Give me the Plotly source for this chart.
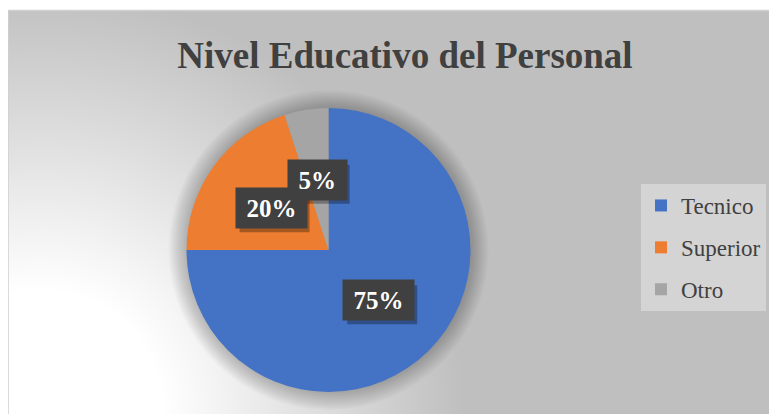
import base64
import math
import plotly.graph_objects as go

labels = ["Tecnico", "Superior", "Otro"]
values = [75, 20, 5]
colors = ["#4472C4", "#ED7D31", "#A5A5A5"]
title = "Nivel Educativo del Personal"

W, H = 777, 414
OFF = 8  # page body margin, the plot div starts at (8, 8)
SERIF = "Liberation Serif, Times New Roman, serif"
# pie geometry in screen pixels
cx, cy, R = 328.5, 250, 142


def px_x(x):
    return (x - OFF) / W


def px_y(y):
    return (H - (y - OFF)) / H


# background: excel style radial gradient (screen coordinates)
svg = f"""<svg xmlns="http://www.w3.org/2000/svg" width="{W}" height="{H}" viewBox="0 0 {W} {H}" preserveAspectRatio="none">
<defs><radialGradient id="g" gradientUnits="userSpaceOnUse" cx="40" cy="414" r="424">
<stop offset="0" stop-color="#ffffff"/><stop offset="0.29" stop-color="#ffffff"/>
<stop offset="1" stop-color="#bfbfbf"/></radialGradient></defs>
<rect x="0" y="0" width="{W}" height="{H}" fill="#ffffff"/>
<rect x="8" y="10.5" width="{W}" height="{H}" fill="url(#g)" stroke="#d0d0d0" stroke-width="1.5"/>
</svg>"""
bg = "data:image/svg+xml;base64," + base64.b64encode(svg.encode()).decode()

fig = go.Figure()
fig.add_trace(go.Pie(
    labels=labels, values=values, sort=False, direction="clockwise",
    marker=dict(colors=colors, line=dict(width=0)),
    textinfo="none", showlegend=False,
    domain=dict(x=[px_x(cx - R), px_x(cx + R)], y=[px_y(cy + R), px_y(cy - R)]),
))

# legend entries (pie legend spacing can't be changed)
for i, (lab, col) in enumerate(zip(labels, colors)):
    fig.add_trace(go.Scatter(
        x=[None], y=[None], mode="markers", name=lab, legendgroup=str(i),
        marker=dict(symbol="square", size=12, color=col),
    ))

# soft shadow around the pie
shapes = []
for k in range(1, 13):
    rr = R + k * 1.5
    shapes.append(dict(
        type="circle", xref="paper", yref="paper", layer="below",
        x0=px_x(cx - rr), x1=px_x(cx + rr), y0=px_y(cy + rr), y1=px_y(cy - rr),
        fillcolor="rgba(0,0,0,0.018)", line=dict(width=0),
    ))

# data labels at half radius on the slice mid angle
annotations = []
total = sum(values)
start = 0
for v in values:
    mid = (start + v / 2) / total * 2 * math.pi
    start += v
    lx = cx + 0.5 * R * math.sin(mid)
    ly = cy - 0.5 * R * math.cos(mid)
    txt = f"{round(v / total * 100)}%"
    w, h = 19 + 12.5 * (len(txt) - 1) + 25, 38
    # box shadow
    shapes.append(dict(
        type="rect", xref="paper", yref="paper", layer="above",
        x0=px_x(lx - w / 2 + 3), x1=px_x(lx + w / 2 + 4),
        y0=px_y(ly + h / 2 + 5), y1=px_y(ly - h / 2 + 4),
        fillcolor="rgba(0,0,0,0.3)", line=dict(width=0),
    ))
    annotations.append(dict(
        xref="paper", yref="paper", x=px_x(lx), y=px_y(ly), text=txt,
        showarrow=False, width=w, height=h, xanchor="center", yanchor="middle",
        bgcolor="#404040", font=dict(family=SERIF, size=25, color="white", weight="bold"),
    ))

fig.update_layout(
    width=W, height=H,
    margin=dict(l=0, r=0, t=0, b=0),
    paper_bgcolor="white", plot_bgcolor="rgba(0,0,0,0)",
    images=[dict(source=bg, xref="paper", yref="paper", x=-OFF / W, y=1 + OFF / H,
                 sizex=1, sizey=1, sizing="stretch", layer="below",
                 xanchor="left", yanchor="top")],
    title=dict(text=title, x=px_x(405), xanchor="center", y=px_y(55), yanchor="middle",
               font=dict(family=SERIF, size=37, color="#404040", weight="bold")),
    xaxis=dict(visible=False), yaxis=dict(visible=False),
    legend=dict(x=px_x(641), y=px_y(184), xanchor="left", yanchor="top",
                bgcolor="#d4d4d4", traceorder="grouped", tracegroupgap=9,
                font=dict(family=SERIF, size=23, color="#404040")),
    shapes=shapes, annotations=annotations,
)

fig.write_html("out.html")
